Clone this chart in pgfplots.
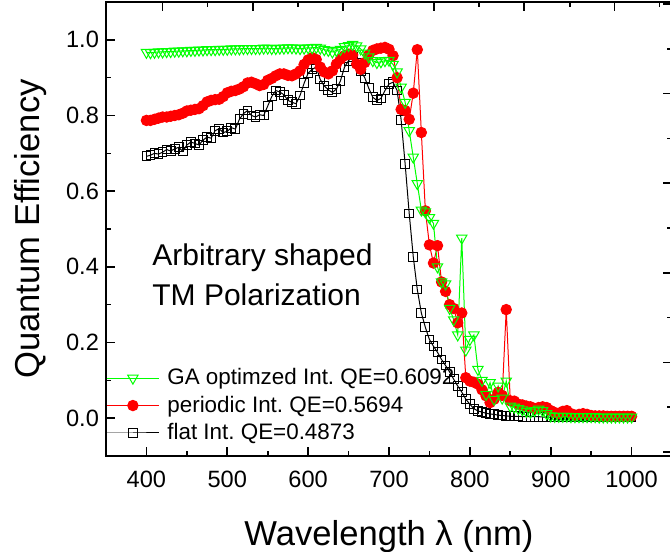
\documentclass[border=0pt]{standalone}
\usepackage{fontspec}
\setmainfont{Liberation Sans}
\usepackage{pgfplots}
\usepackage{pgfplotstable}
\pgfplotsset{compat=1.18}
\usetikzlibrary{calc}
\definecolor{gaGreen}{HTML}{00FF00}
\definecolor{perRed}{HTML}{FF0000}
\frenchspacing

% wavelength (nm), flat, periodic, GA optimized
\pgfplotstableread{
wl flat per ga
400 0.692 0.787 0.967
405 0.695 0.787 0.966
410 0.700 0.790 0.967
415 0.698 0.793 0.968
420 0.703 0.796 0.968
425 0.710 0.796 0.969
430 0.706 0.798 0.969
435 0.712 0.800 0.970
440 0.716 0.802 0.970
445 0.705 0.806 0.971
450 0.722 0.812 0.971
455 0.730 0.814 0.972
460 0.726 0.816 0.972
465 0.722 0.818 0.973
470 0.735 0.826 0.973
475 0.743 0.836 0.974
480 0.740 0.840 0.974
485 0.760 0.842 0.974
490 0.765 0.843 0.975
495 0.755 0.850 0.975
500 0.758 0.860 0.975
505 0.768 0.864 0.976
510 0.764 0.866 0.976
515 0.790 0.870 0.976
520 0.805 0.876 0.977
525 0.813 0.886 0.977
530 0.800 0.888 0.977
535 0.796 0.884 0.977
540 0.802 0.879 0.977
545 0.800 0.882 0.978
550 0.825 0.893 0.978
555 0.850 0.898 0.977
560 0.866 0.905 0.977
565 0.862 0.910 0.978
570 0.855 0.910 0.978
575 0.840 0.906 0.979
580 0.835 0.905 0.979
585 0.831 0.910 0.978
590 0.853 0.918 0.977
595 0.885 0.935 0.978
600 0.912 0.947 0.979
605 0.922 0.953 0.979
610 0.928 0.948 0.980
615 0.895 0.928 0.978
620 0.878 0.915 0.974
625 0.868 0.910 0.972
630 0.861 0.918 0.968
635 0.870 0.936 0.972
640 0.892 0.949 0.975
645 0.928 0.958 0.982
650 0.945 0.962 0.985
655 0.955 0.960 0.988
660 0.940 0.936 0.984
665 0.918 0.922 0.976
670 0.900 0.940 0.965
675 0.872 0.960 0.955
680 0.848 0.972 0.945
685 0.840 0.976 0.940
690 0.845 0.978 0.942
695 0.866 0.980 0.945
700 0.883 0.975 0.946
705 0.888 0.958 0.935
710 0.866 0.900 0.915
715 0.789 0.816 0.875
720 0.671 0.813 0.835
725 0.541 0.790 0.760
730 0.427 0.859 0.690
735 0.340 0.974 0.620
740 0.278 0.755 0.550
745 0.240 0.548 0.545
750 0.208 0.458 0.530
755 0.190 0.410 0.515
760 0.174 0.456 0.400
765 0.155 0.360 0.360
770 0.139 0.335 0.355
775 0.122 0.300 0.290
780 0.103 0.290 0.260
785 0.085 0.252 0.220
790 0.069 0.278 0.476
795 0.050 0.107 0.180
800 0.037 0.098 0.208
805 0.025 0.095 0.220
810 0.019 0.090 0.129
815 0.016 0.075 0.100
820 0.013 0.059 0.063
825 0.011 0.041 0.094
830 0.010 0.050 0.050
835 0.008 0.068 0.085
840 0.007 0.060 0.053
845 0.006 0.287 0.098
850 0.005 0.046 0.032
855 0.005 0.045 0.029
860 0.005 0.037 0.025
865 0.004 0.035 0.022
870 0.004 0.032 0.018
875 0.004 0.030 0.016
880 0.004 0.025 0.020
885 0.004 0.028 0.024
890 0.003 0.030 0.020
895 0.003 0.028 0.012
900 0.003 0.020 0.006
905 0.003 0.015 0.005
910 0.003 0.012 0.005
915 0.003 0.018 0.005
920 0.003 0.020 0.005
925 0.003 0.012 0.004
930 0.003 0.008 0.004
935 0.003 0.010 0.004
940 0.003 0.012 0.004
945 0.003 0.010 0.004
950 0.002 0.007 0.004
955 0.002 0.006 0.004
960 0.002 0.006 0.003
965 0.002 0.006 0.003
970 0.002 0.005 0.003
975 0.002 0.005 0.003
980 0.002 0.005 0.003
985 0.002 0.005 0.003
990 0.002 0.005 0.003
995 0.002 0.005 0.003
1000 0.002 0.005 0.003
}\qe

\begin{document}
\begin{tikzpicture}
  \pgfplotsset{
    frame/.style={scale only axis, width=283pt, height=227pt,
      xmin=350, xmax=1050, ymin=-0.1, ymax=1.1,
      tick align=inside, major tick length=4.5pt, minor tick length=2.5pt,
      every tick/.style={black, line width=0.8pt}},
  }
  \begin{axis}[frame,
      axis line style={line width=0.8pt},
      xtick pos=left, ytick pos=left,
      xtick={400,500,...,1000}, minor xtick={350,450,...,1050},
      ytick={0,0.2,...,1.0}, minor ytick={-0.1,0.1,...,1.1},
      /pgf/number format/assume math mode=true,
      /pgf/number format/1000 sep={},
      yticklabel style={/pgf/number format/.cd, fixed, fixed zerofill, precision=1},
      xticklabel style={yshift=-4pt},
      ticklabel style={font=\fontsize{11.8}{14}\selectfont},
      xlabel={Wavelength λ (nm)}, ylabel={Quantum Efficiency},
      label style={font=\fontsize{17.3}{20}\selectfont},
      xlabel style={at={(axis description cs:0.5,-0.178)}, anchor=center},
      ylabel style={at={(axis description cs:-0.134,0.5)}, anchor=center},
      reverse legend,
      legend cell align=left,
      legend style={draw=none, fill=none, font=\fontsize{11.2}{13}\selectfont,
        at={(rel axis cs:0,0)}, anchor=south west, xshift=0pt, yshift=2.5pt,
        inner xsep=0pt, row sep=0.1pt,
        /tikz/every odd column/.append style={column sep=2pt}},
      legend image code/.code={\draw[mark repeat=2, mark phase=2, #1]
        plot coordinates {(0pt,0pt) (13pt,0pt) (26pt,0pt)};},
    ]
    \coordinate (o) at (rel axis cs:0,0);
    \addplot[black, line width=0.5pt, mark=square, mark size=2.2pt,
      mark options={line width=0.5pt, fill=white}] table[x=wl, y=flat] {\qe};
    \addplot[perRed, line width=0.5pt, mark=*, mark size=2.6pt,
      mark options={fill=perRed, draw=perRed}] table[x=wl, y=per] {\qe};
    \addplot[gaGreen, line width=0.5pt, mark=triangle, mark size=3pt,
      mark options={rotate=180, line width=0.5pt, fill=none}] table[x=wl, y=ga] {\qe};
    \legend{flat Int. QE=0.4873, periodic Int. QE=0.5694, GA optimzed Int. QE=0.6092}
    \node[anchor=west, align=left, inner sep=0pt, font=\fontsize{15}{20}\selectfont]
      at (rel axis cs:0.0813,0.3987) {Arbitrary shaped\\TM Polarization};
  \end{axis}
  % second layer: ticks on top and right with their own spacing, no labels
  \begin{axis}[frame,
      axis line style={draw=none},
      xtick pos=right, ytick pos=right,
      xticklabels={}, yticklabels={},
      xtick={419.8,532.1,643.2,755.6,866.7,979.0},
      minor xtick={475.3,587.7,698.8,811.1,923.5,1034.6},
      ytick={-0.0895,0.1474,0.3842,0.6211,0.8579,1.0947},
      minor ytick={0.0289,0.2658,0.5026,0.7395,0.9763},
    ]
  \end{axis}
  \pgfresetboundingbox
  \path[use as bounding box] ($(o)+(-53pt,-48pt)$) rectangle ($(o)+(282pt,228pt)$);
\end{tikzpicture}
\end{document}
